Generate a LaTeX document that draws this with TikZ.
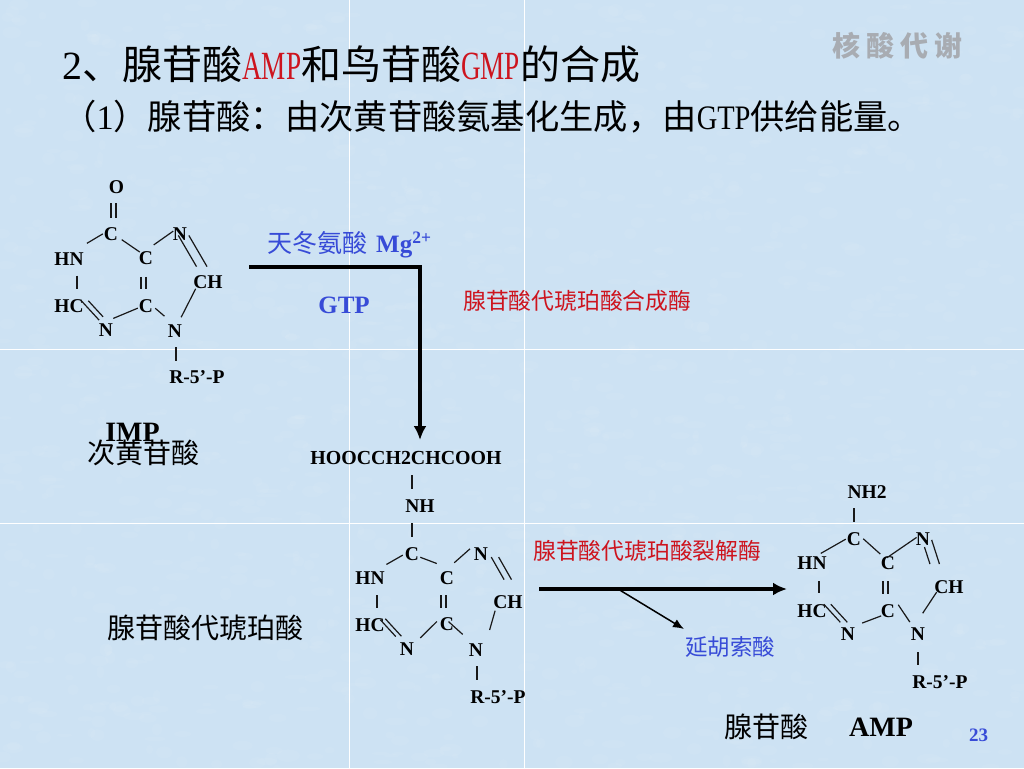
\documentclass[tikz,border=0pt]{standalone}
\usepackage{fontspec}
\setmainfont{Liberation Serif}
\newfontfamily\cjk{Noto Sans CJK SC}
\newfontfamily\narrowa[FakeStretch=0.68]{Liberation Serif}
\newfontfamily\narrowb[FakeStretch=0.83]{Liberation Serif}
\usetikzlibrary{arrows.meta,positioning}
\definecolor{slidebg}{RGB}{205,226,243}
\definecolor{titlered}{RGB}{205,20,30}
\definecolor{labelblue}{RGB}{55,75,215}
\definecolor{watermark}{RGB}{168,172,178}
\newcommand{\fsize}[1]{\fontsize{#1}{#1}\selectfont}

\begin{document}
\begin{tikzpicture}[x=1pt,y=-1pt,
	atom/.style={inner sep=0pt,font=\fsize{19.5}\bfseries},
	bond/.style n args={3}{draw=black!90,line width=1.2pt,shorten <=#1pt,shorten >=#2pt,transform canvas={shift={(#3)}}},
	cjklabel/.style={inner sep=0pt,anchor=west,font=\cjk\fsize{#1}},
	latinlabel/.style={inner sep=0pt,font=\bfseries\fsize{#1}},
	bigarrow/.style={draw=black,line width=4pt,-{Latex[length=14pt,width=13pt]}},
	smallarrow/.style={draw=black,line width=1.5pt,-{Latex[length=11pt,width=9pt]}}]
	\useasboundingbox (0,0) rectangle (1024,768);
	\fill[slidebg] (0,0) rectangle (1024,768);
	% mottled paper
	\pgfmathsetseed{11}
	\foreach \i in {1,...,1500}
		\fill[white,opacity=.06] (rnd*1024,rnd*768) ellipse ({3+rnd*9} and {1.5+rnd*5});
	\draw[white,line width=.9pt] (0,349) -- (1024,349) (0,523) -- (1024,523)
		(349.5,0) -- (349.5,768) (524.5,0) -- (524.5,768);

	% heading
	\node[inner sep=0pt,anchor=west] (title) at (62,64) {\fsize{40}2{\cjk 、腺苷酸}{\narrowa\color{titlered}AMP}{\cjk 和鸟苷酸}{\narrowa\color{titlered}GMP}{\cjk 的合成}};
	\node[inner sep=0pt,anchor=west] (subtitle) at (62,117) {\fsize{34.3}{\cjk （}1{\cjk ）腺苷酸：由次黄苷酸氨基化生成，由}{\narrowb GTP}{\cjk 供给能量。}};
	\node[inner sep=0pt,anchor=west,text=watermark] (topic) at (832,46) {\cjk\bfseries\fsize{28}核\hskip6pt 酸\hskip6pt 代\hskip6pt 谢};

	% IMP
	\node[atom] (o1) at (116.5,187) {O};
	\node[atom] (ca1) at (111,234) {C};
	\node[atom] (cb1) at (146,258) {C};
	\node[atom] (na1) at (180,234) {N};
	\node[atom] (hn1) at (69,259) {HN};
	\node[atom] (ch1) at (208,282) {CH};
	\node[atom] (hc1) at (69,306) {HC};
	\node[atom] (cc1) at (146,306) {C};
	\node[atom] (nb1) at (106,330) {N};
	\node[atom] (nc1) at (175,331) {N};
	\node[atom] (r1) at (197,377) {R-5’-P};
	\path
	(ca1.north) edge[bond={9.5}{9.5}{0,0}] (ca1.north |- o1.south)
	(ca1.north) edge[bond={9.5}{9.5}{5,0}] (ca1.north |- o1.south)
	(ca1) edge[bond={1}{8}{0,-5}] (hn1)
	(ca1) edge[bond={3}{0}{1,-1}] (cb1)
	(cb1) edge[bond={0}{0}{0.5,-8}] (na1)
	(na1) edge[bond={-6}{10}{-2.5,0}] (ch1)
	(na1) edge[bond={-6}{10}{8,0}] (ch1)
	(hn1) edge[bond={10}{10}{8,0}] (hc1)
	(cb1) edge[bond={12}{10}{-5,0}] (cc1)
	(cb1) edge[bond={12}{10}{0,0}] (cc1)
	(hc1.north east) edge[bond={0}{6.5}{-2.5,1.5}] (nb1.north)
	(hc1.north east) edge[bond={0}{11}{4.5,1.5}] (nb1.north)
	(nb1.north east) edge[bond={0}{1}{0,-5}] (cc1.south west)
	(cc1) edge[bond={0}{7}{2,-4}] (nc1)
	(nc1.north) edge[bond={8}{0}{2.5,0}] (ch1.south west)
	(nc1.south) edge[bond={9.5}{9.5}{1,0}] (nc1.south |- r1.north)
	;
	\node[latinlabel=28] (imp) at (132.5,432) {IMP};
	\node[cjklabel=28] (impname) at (87,453) {次黄苷酸};

	% reagents of the first step
	\node[cjklabel=25,text=labelblue] (aspartate) at (267,245) {天冬氨酸\hskip9pt{\rmfamily\bfseries Mg\textsuperscript{2+}}};
	\node[latinlabel=25,text=labelblue] (gtp) at (344,305) {GTP};
	\node[cjklabel=22.8,text=titlered] (synthase) at (463,301) {腺苷酸代琥珀酸合成酶};
	\coordinate (impout) at (249,267);
	\coordinate (hoocin) at (420,440);
	\draw[bigarrow] (impout) -| (hoocin);

	% adenylosuccinate
	\node[latinlabel=19.9] (hooc2) at (406,458) {HOOCCH2CHCOOH};
	\node[atom] (nh2) at (420,506) {NH};
	\node[atom] (ca2) at (412,554) {C};
	\node[atom] (na2) at (481,554) {N};
	\node[atom] (hn2) at (370,578) {HN};
	\node[atom] (cb2) at (447,578) {C};
	\node[atom] (ch2) at (508,602) {CH};
	\node[atom] (hc2) at (370,625) {HC};
	\node[atom] (cc2) at (447,624) {C};
	\node[atom] (nb2) at (407,649) {N};
	\node[atom] (nc2) at (476,650) {N};
	\node[atom] (r2) at (498,697) {R-5’-P};
	\path
	(ca2 |- hooc2.south) edge[bond={10.5}{10.5}{0,0}] (ca2 |- nh2.north)
	(ca2 |- nh2.south) edge[bond={10.5}{10.5}{0,0}] (ca2.north)
	(ca2) edge[bond={0}{8}{-2,-3}] (hn2)
	(ca2.south east) edge[bond={0}{12}{1,-3.5}] (cb2.north)
	(cb2.north east) edge[bond={0}{5}{0,-8.5}] (na2.west)
	(na2.south east) edge[bond={-4}{18}{5,0}] (ch2.north)
	(na2.south east) edge[bond={-4}{18}{12.4,0}] (ch2.north)
	(hn2) edge[bond={10.5}{10.5}{7,0}] (hc2)
	(cb2) edge[bond={10.5}{9.5}{-6,0}] (cc2)
	(cb2) edge[bond={10.5}{9.5}{-1,0}] (cc2)
	(hc2.north east) edge[bond={0}{10}{-4.5,1.5}] (nb2.north)
	(hc2.north east) edge[bond={0}{9}{0.5,0.5}] (nb2.north)
	(nb2.north east) edge[bond={0}{12.5}{6,-4.5}] (cc2.north west)
	(cc2.north) edge[bond={2}{18}{0,3}] (nc2.north)
	(nc2.north east) edge[bond={14}{2}{2.5,0}] (ch2.south west)
	(nc2.south) edge[bond={9.5}{10.5}{1,0}] (nc2.south |- r2.north)
	;
	\node[cjklabel=28] (succinate) at (107,628) {腺苷酸代琥珀酸};

	% second step
	\node[cjklabel=22.8,text=titlered] (lyase) at (533,551) {腺苷酸代琥珀酸裂解酶};
	\node[cjklabel=22.5,text=labelblue] (fumarate) at (685,647) {延胡索酸};
	\coordinate (sucout) at (539,589);
	\coordinate (ampin) at (787,589);
	\coordinate (branch) at (618,589);
	\coordinate (fumin) at (684,629);
	\draw[bigarrow] (sucout) -- (ampin);
	\draw[smallarrow] (branch) -- (fumin);

	% AMP
	\node[atom] (nh3) at (867,492) {NH2};
	\node[atom] (ca3) at (854,539) {C};
	\node[atom] (na3) at (923,539) {N};
	\node[atom] (hn3) at (812,563) {HN};
	\node[atom] (cb3) at (888,563) {C};
	\node[atom] (ch3) at (949,587) {CH};
	\node[atom] (hc3) at (812,611) {HC};
	\node[atom] (cc3) at (888,611) {C};
	\node[atom] (nb3) at (848,634) {N};
	\node[atom] (nc3) at (918,634) {N};
	\node[atom] (r3) at (940,682) {R-5’-P};
	\path
	(ca3 |- nh3.south) edge[bond={9.5}{10.5}{0,0}] (ca3.north)
	(ca3) edge[bond={0}{-2}{-1,-4}] (hn3)
	(ca3.north east) edge[bond={0}{13}{2,6.5}] (cb3.north)
	(cb3) edge[bond={-10}{-1}{0,-6}] (na3)
	(na3.south) edge[bond={1.5}{17}{1,0}] (ch3.north west)
	(na3.south) edge[bond={-6}{17}{10.5,0}] (ch3.north west)
	(hn3) edge[bond={11.5}{11.5}{7,0}] (hc3)
	(cb3) edge[bond={11.5}{10.5}{-5,0}] (cc3)
	(cb3) edge[bond={11.5}{10.5}{0,0}] (cc3)
	(hc3.north east) edge[bond={0}{7}{-3,0}] (nb3.north)
	(hc3.north east) edge[bond={0}{7}{4,0}] (nb3.north)
	(nb3.north east) edge[bond={1}{6}{6,-4}] (cc3.south west)
	(cc3.north east) edge[bond={0}{7}{3,0.5}] (nc3.north west)
	(nc3) edge[bond={17}{-2}{-9,0}] (ch3)
	(nc3.south) edge[bond={11.5}{10.5}{0,0}] (nc3.south |- r3.north)
	;
	\node[cjklabel=28] (ampname) at (724,727) {腺苷酸};
	\node[latinlabel=28] (amp) at (881,727) {AMP};
	\node[latinlabel=19,text=labelblue] (pageno) at (978.5,735) {23};
\end{tikzpicture}
\end{document}
